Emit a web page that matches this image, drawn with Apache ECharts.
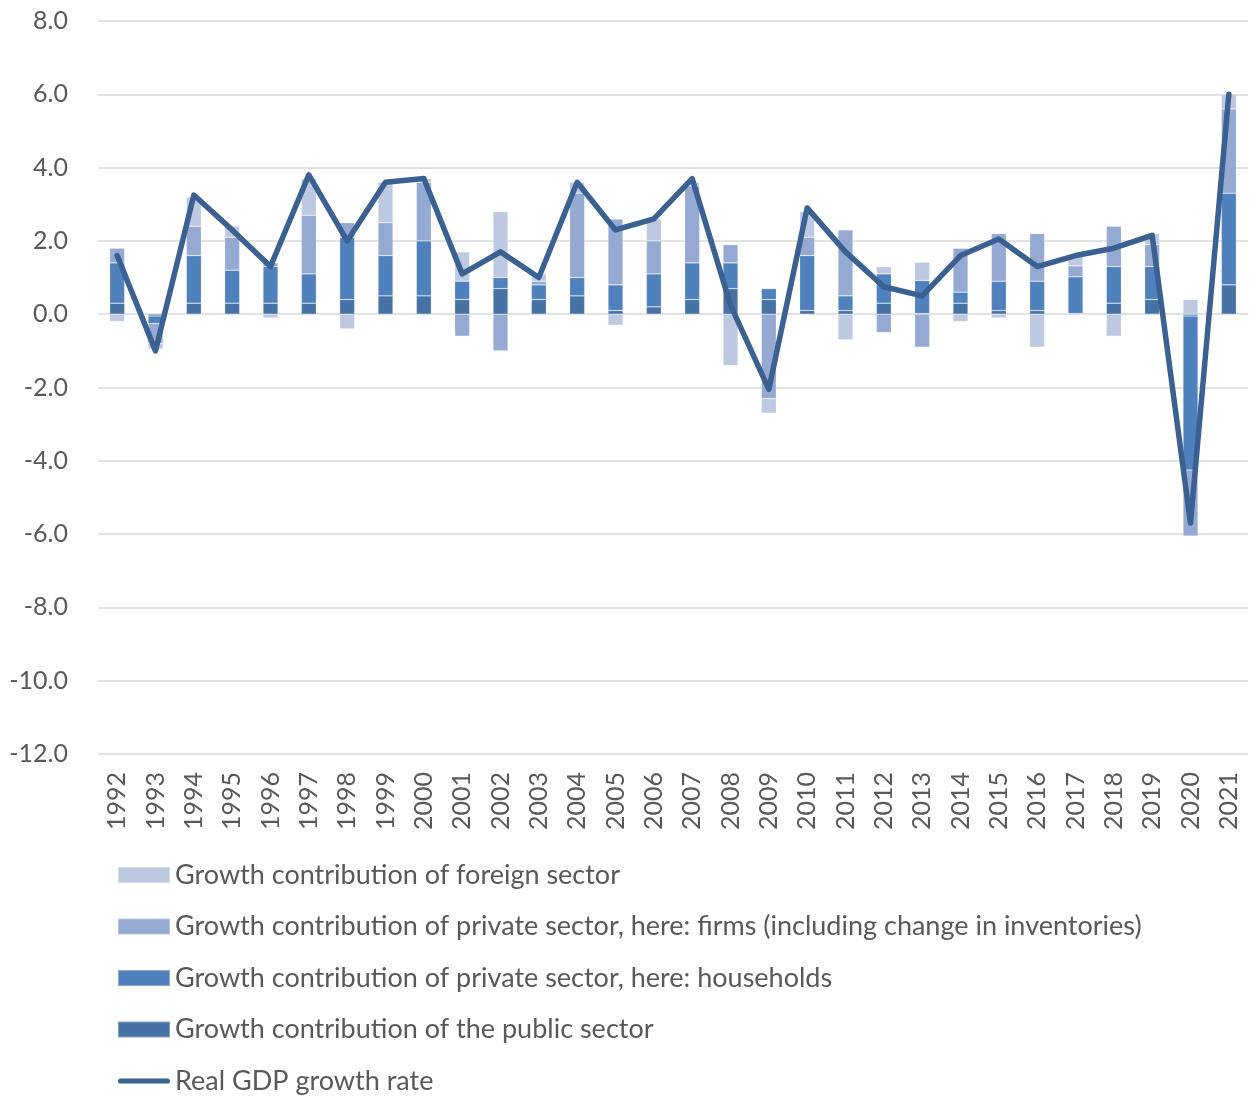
<!DOCTYPE html>
<html>
<head>
<meta charset="utf-8">
<script src="https://cdn.jsdelivr.net/npm/echarts@6/dist/echarts.min.js"></script>
<style>
html,body{margin:0;padding:0;background:#fff;}
#chart{width:1251px;height:1099px;}
</style>
</head>
<body>
<div id="chart"></div>
<script>
const years = ['1992','1993','1994','1995','1996','1997','1998','1999','2000','2001','2002','2003','2004','2005','2006','2007','2008','2009','2010','2011','2012','2013','2014','2015','2016','2017','2018','2019','2020','2021'];
const publicSector = [0.3,-0.05,0.3,0.3,0.3,0.3,0.4,0.5,0.5,0.4,0.7,0.4,0.5,0.1,0.2,0.4,0.7,0.4,0.1,0.1,0.3,0.02,0.3,0.1,0.1,0.02,0.3,0.4,-0.05,0.8];
const households = [1.1,-0.2,1.3,0.9,1.0,0.8,1.7,1.1,1.5,0.5,0.3,0.4,0.5,0.7,0.9,1.0,0.7,0.3,1.5,0.4,0.8,0.9,0.3,0.8,0.8,1.0,1.0,0.9,-4.2,2.5];
const firms = [0.4,-0.55,0.8,0.9,0.1,1.6,0.4,0.9,1.6,-0.6,-1.0,0.1,2.3,1.8,0.9,2.1,0.5,-2.3,0.5,1.8,-0.5,-0.9,1.2,1.3,1.3,0.3,1.1,0.6,-1.8,2.3];
const foreign = [-0.2,-0.15,0.8,0.3,-0.1,1.0,-0.4,1.1,0.1,0.8,1.8,0.2,0.3,-0.3,0.6,0.1,-1.4,-0.4,0.7,-0.7,0.2,0.5,-0.2,-0.1,-0.9,0.3,-0.6,0.3,0.4,0.4];
const gdp = [1.6,-1.0,3.25,2.3,1.3,3.8,2.0,3.6,3.7,1.1,1.7,1.0,3.6,2.3,2.6,3.7,0.25,-2.05,2.9,1.7,0.75,0.5,1.6,2.05,1.3,1.6,1.8,2.15,-5.7,6.0];

const names = {
  foreign: 'Growth contribution of foreign sector',
  firms: 'Growth contribution of private sector, here: firms (including change in inventories)',
  households: 'Growth contribution of private sector, here: households',
  pub: 'Growth contribution of the public sector',
  gdp: 'Real GDP growth rate'
};
const font = 'Lato, "Open Sans", sans-serif';
const chart = echarts.init(document.getElementById('chart'), null, {renderer:'canvas'});
function barSeries(name, data, color){
  return {
    name: name, type: 'bar', stack: 'total', data: data, barWidth: 15,
    itemStyle: {color: color, borderColor: 'rgba(255,255,255,0.35)', borderWidth: 0.6},
    emphasis: {disabled: true}
  };
}
const lineIcon = 'path://M2.75,0 L52.25,0 A2.75,2.75 0 0 1 52.25,5.5 L2.75,5.5 A2.75,2.75 0 0 1 2.75,0 Z';
chart.setOption({
  animation: false,
  textStyle: {fontFamily: font},
  grid: {left: 98, right: 3, top: 21, bottom: 345, containLabel: false},
  legend: {
    orient: 'vertical', left: 117, top: 860, padding: 0,
    itemWidth: 52, itemHeight: 16, itemGap: 21.5,
    textStyle: {fontFamily: font, fontSize: 27, color: '#595959', lineHeight: 30},
    data: [
      {name: names.foreign, icon: 'rect'},
      {name: names.firms, icon: 'rect'},
      {name: names.households, icon: 'rect'},
      {name: names.pub, icon: 'rect'},
      {name: names.gdp, icon: lineIcon}
    ]
  },
  xAxis: {
    type: 'category', data: years,
    axisLine: {show: false}, axisTick: {show: false},
    axisLabel: {rotate: 90, fontSize: 25, color: '#595959', margin: 18, fontFamily: font, interval: 0}
  },
  yAxis: {
    type: 'value', min: -12, max: 8, interval: 2,
    axisLine: {show: false}, axisTick: {show: false},
    splitLine: {lineStyle: {color: '#d9d9d9', width: 1.5}},
    axisLabel: {fontSize: 25, color: '#595959', margin: 30, fontFamily: font,
      formatter: v => v.toFixed(1)}
  },
  series: [
    barSeries(names.pub, publicSector, '#4672a6'),
    barSeries(names.households, households, '#4f81bd'),
    barSeries(names.firms, firms, '#95aad2'),
    barSeries(names.foreign, foreign, '#bdc9e1'),
    {
      name: names.gdp, type: 'line', data: gdp, symbol: 'none', z: 10,
      lineStyle: {color: '#3a6191', width: 5.5, join: 'round', cap: 'round'},
      itemStyle: {color: '#3a6191'},
      emphasis: {disabled: true}
    }
  ]
});
</script>
</body>
</html>
